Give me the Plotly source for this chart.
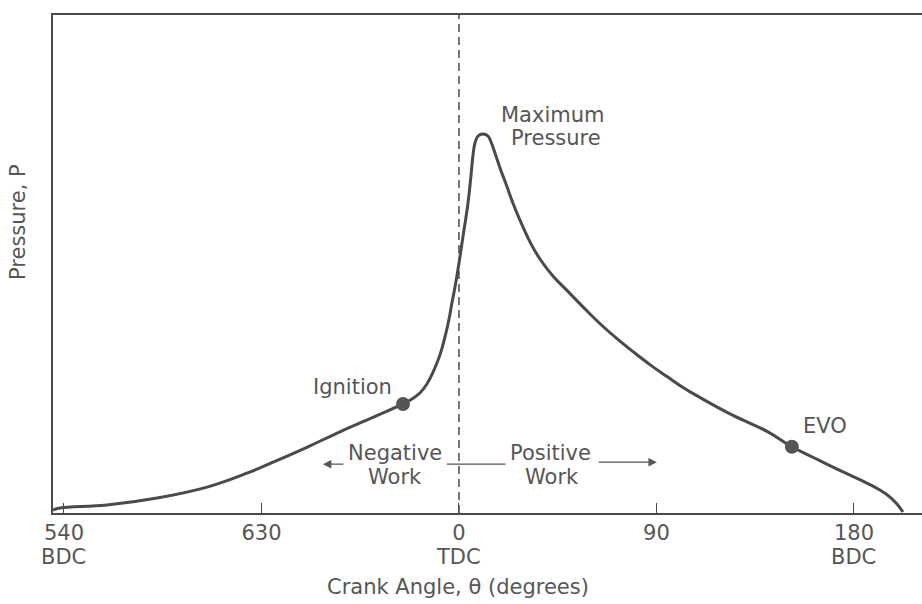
import plotly.graph_objects as go

# Crank angle (degrees, TDC = 0, 540 shown as -180) and relative pressure
crank_angle = [-185.0, -181.8, -160.4, -137.6, -114.8, -96.6, -84.8, -69.3, -54.2, -39.2,
               -25.5, -21.4, -17.8, -14.6, -11.8, -8.7, -6.4, -4.6, -3.2, -1.8, -0.5,
               1.8, 4.1, 5.5, 6.4, 7.3, 8.7, 10.9, 13.2, 14.6, 16.4, 18.7, 21.9, 24.6,
               27.8, 32.4, 36.9, 42.8, 49.2, 56.5, 64.3, 72.0, 79.3, 87.0, 94.8, 102.1,
               109.8, 124.9, 140.4, 151.7, 161.3, 170.4, 178.2, 185.9, 191.8, 196.4,
               199.6, 202.3]
pressure = [0.6, 1.0, 1.6, 3.0, 5.2, 8.0, 10.2, 13.2, 16.3, 19.2,
            21.9, 22.9, 24.1, 25.9, 28.3, 31.7, 35.3, 38.8, 42.2, 45.4, 48.8,
            55.4, 62.2, 67.9, 71.9, 74.3, 75.7, 76.1, 75.7, 74.5, 72.3, 69.3, 65.5, 62.2,
            58.8, 54.4, 51.0, 47.6, 44.7, 41.4, 38.0, 35.0, 32.4, 29.8, 27.4, 25.2,
            23.2, 19.6, 16.4, 13.3, 11.2, 9.2, 7.6, 6.0, 4.6, 3.2,
            1.8, 0.2]

event_angle = [-25.5, 151.7]
event_pressure = [21.9, 13.3]

tick_vals = [-180, -90, 0, 90, 180]
tick_text = ["540", "630", "0", "90", "180"]
tick_sub_vals = [-180, 0, 180]
tick_sub_text = ["BDC", "TDC", "BDC"]

ink = "#4a4a4a"
txt = "#565656"
font_family = "DejaVu Sans, sans-serif"
fs = 21

fig = go.Figure()
fig.add_trace(go.Scatter(x=crank_angle, y=pressure, mode="lines",
                         line=dict(color=ink, width=3, shape="spline", smoothing=1.2),
                         hoverinfo="skip", showlegend=False))
fig.add_trace(go.Scatter(x=event_angle, y=event_pressure, mode="markers",
                         marker=dict(color="#555555", size=14),
                         showlegend=False))

# TDC dashed line
fig.add_shape(type="line", xref="x", yref="paper", x0=0, x1=0, y0=0, y1=1,
              line=dict(color=ink, width=1.5, dash="8px,5px"))

# Work arrows / connector
fig.add_annotation(x=-62.0, y=9.8, ax=-52.0, ay=9.8, xref="x", yref="y", axref="x", ayref="y",
                   text="", showarrow=True, arrowhead=2, arrowsize=1.3, arrowwidth=1.3,
                   arrowcolor=txt)
fig.add_annotation(x=-5.5, y=9.8, ax=21.9, ay=9.8, xref="x", yref="y", axref="x", ayref="y",
                   text="", showarrow=True, arrowhead=0, arrowwidth=1.3, arrowcolor=txt)
fig.add_annotation(x=90.2, y=10.2, ax=62.9, ay=10.2, xref="x", yref="y", axref="x", ayref="y",
                   text="", showarrow=True, arrowhead=2, arrowsize=1.3, arrowwidth=1.3,
                   arrowcolor=txt)

labels = [
    (42.4, 79.9, "Maximum"),
    (44.2, 75.3, "Pressure"),
    (-48.3, 25.3, "Ignition"),
    (-29.2, 12.0, "Negative"),
    (-29.2, 7.2, "Work"),
    (41.5, 12.0, "Positive"),
    (42.4, 7.2, "Work"),
    (166.9, 17.5, "EVO"),
]
for lx, ly, lt in labels:
    fig.add_annotation(x=lx, y=ly, xref="x", yref="y", text=lt, showarrow=False,
                       xanchor="center", yanchor="middle",
                       font=dict(size=fs, color=txt, family=font_family))

for sx, st in zip(tick_sub_vals, tick_sub_text):
    fig.add_annotation(x=sx, y=-(557 - 513) / 498, xref="x", yref="paper", text=st,
                       showarrow=False, xanchor="center", yanchor="middle",
                       font=dict(size=fs, color=txt, family=font_family))

fig.add_annotation(xref="paper", yref="paper", x=-(53 - 18) / 869, y=(513 - 222) / 498,
                   text="Pressure, P", textangle=-90, showarrow=False,
                   xanchor="center", yanchor="middle",
                   font=dict(size=fs, color=txt, family=font_family))
fig.add_annotation(xref="paper", yref="paper", x=(458 - 53) / 869, y=-(587 - 513) / 498,
                   text="Crank Angle, θ (degrees)", showarrow=False,
                   xanchor="center", yanchor="middle",
                   font=dict(size=fs, color=txt, family=font_family))

fig.update_layout(
    width=922, height=604,
    margin=dict(l=53, r=0, t=15, b=91, autoexpand=False),
    paper_bgcolor="white", plot_bgcolor="white",
    font=dict(family=font_family, color=txt, size=fs),
    xaxis=dict(range=[-185, 211], tickvals=tick_vals, ticktext=tick_text,
               ticks="inside", ticklen=10, tickcolor=ink, tickwidth=1.3,
               showline=True, linecolor=ink, linewidth=1.5, mirror=True,
               showgrid=False, zeroline=False,
               tickfont=dict(size=fs, color=txt, family=font_family)),
    yaxis=dict(range=[0, 100], showline=True, linecolor=ink, linewidth=1.5,
               showticklabels=False, ticks="", showgrid=False, zeroline=False),
)

fig.write_html("out.html", config={"displayModeBar": False},
               post_script="document.body.style.margin='0px';")
